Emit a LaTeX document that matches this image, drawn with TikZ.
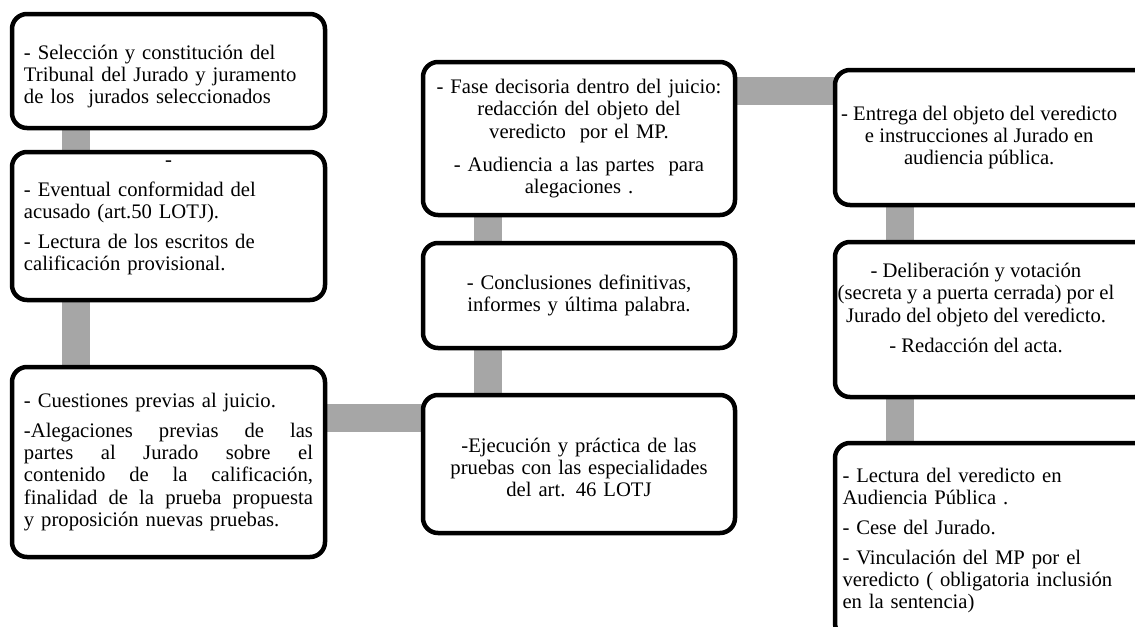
\documentclass[tikz,border=0pt]{standalone}
\usepackage{fontspec}
\setmainfont{Liberation Serif}
\usepackage{tikz}
\usetikzlibrary{
  backgrounds,
  positioning,
}
\definecolor{linkgray}{RGB}{166,166,166}
\tikzstyle{stage} = [
  rectangle,
  draw,
  fill=white,
  line width=2.7pt,
  rounded corners=9pt,
  inner sep=0pt,
  outer sep=0pt,
  font=\fontsize{12.4}{13.35}\selectfont,
]
\tikzstyle{stagetext} = [
  inner sep=0pt,
  align=center,
  font=\fontsize{12.4}{13.35}\selectfont,
]
\tikzstyle{link} = [
  line width=16.8pt,
  linkgray,
]

\begin{document}
\begin{tikzpicture}[node distance=0mm and 0mm]
      \useasboundingbox (0,0) rectangle (681pt,-375.6pt);
      \clip (0,0) rectangle (681pt,-375.6pt);

      % jurado
      \node[stage,minimum width=187.8pt,minimum height=68.4pt,text width=173.4pt,align=left] (jur1) at (101.1pt,-42.6pt) {\rule{0pt}{15pt}- Selección y constitución del\\Tribunal del Jurado y juramento\\de los~ jurados seleccionados};
      \node[stage,minimum width=187.8pt,minimum height=88.8pt,text width=173.4pt,align=left,below=14.4pt of jur1] (jur2) {\makebox[173.4pt]{-}\\[4.6pt]- Eventual conformidad del\\acusado (art.50 LOTJ).\\[4.6pt]- Lectura de los escritos de\\calificación provisional.\rule[-12.6pt]{0pt}{1pt}};
      \node[stage,minimum width=187.8pt,minimum height=114pt,text width=173.4pt,align=left,below=40.2pt of jur2] (jur3) {- Cuestiones previas al juicio.\\[4.6pt]-Alegaciones\hfill previas\hfill de\hfill las\\partes\hfill al\hfill Jurado\hfill sobre\hfill el\\contenido\hfill de\hfill la\hfill calificación,\\finalidad\hfill de\hfill la\hfill prueba\hfill propuesta\\y proposición nuevas pruebas.};

      % juicio
      \node[stage,minimum width=187.2pt,minimum height=82.8pt,text width=180pt,align=center] (jui1) at (347.4pt,-278.4pt) {\rule{0pt}{13pt}-Ejecución y práctica de las\\pruebas con las especialidades\\del art. 46 LOTJ};
      \node[stage,minimum width=187.2pt,minimum height=63pt,text width=180pt,align=center,above=28.2pt of jui1] (jui2) {- Conclusiones definitivas,\\informes y última palabra.};
      \node[stage,minimum width=187.2pt,minimum height=91.8pt,text width=180pt,align=center,above=16.8pt of jui2] (jui3) {- Fase decisoria dentro del juicio:\\redacción del objeto del\\veredicto~ por el MP.\\[6.5pt]- Audiencia a las partes~ para\\alegaciones .};

      % veredicto
      \node[stage,minimum width=189pt,minimum height=81pt] (ver1) at (595.5pt,-82.5pt) {};
      \node[stagetext] (ver1t) at ([xshift=-8pt]ver1.center) {- Entrega del objeto del veredicto\\e instrucciones al Jurado en\\audiencia pública.};
      \node[stage,minimum width=189pt,minimum height=93pt,below=22.2pt of ver1] (ver2) {};
      \node[stagetext] (ver2t) at ([xshift=-9.9pt,yshift=7pt]ver2.center) {- Deliberación y votación\\(secreta y a puerta cerrada) por el\\Jurado del objeto del veredicto.\\[4.6pt]- Redacción del acta.};
      \node[stage,minimum width=189pt,minimum height=117pt,text width=180pt,align=left,below=27.6pt of ver2] (ver3) {- Lectura del veredicto en\\Audiencia Pública .\\[4.6pt]- Cese del Jurado.\\[4.6pt]- Vinculación del MP por el\\veredicto ( obligatoria inclusión\\en la sentencia)};

      \begin{scope}[on background layer]
        \draw[link] ([xshift=38.4pt]jur1.south west) -- ([xshift=38.4pt]jur2.north west);
        \draw[link] ([xshift=38.4pt]jur2.south west) -- ([xshift=38.4pt]jur3.north west);
        \draw[link] ([yshift=-13.5pt]jui1.north west) -- ([yshift=-13.5pt]jui1.north west -| jur3.east);
        \draw[link] ([xshift=38.7pt]jui1.north west) -- ([xshift=38.7pt]jui2.south west);
        \draw[link] ([xshift=38.7pt]jui2.north west) -- ([xshift=38.7pt]jui3.south west);
        \draw[link] ([yshift=-17.1pt]jui3.north east) -- ([yshift=-17.1pt]jui3.north east -| ver1.west);
        \draw[link] ([xshift=39pt]ver1.south west) -- ([xshift=39pt]ver2.north west);
        \draw[link] ([xshift=39pt]ver2.south west) -- ([xshift=39pt]ver3.north west);
      \end{scope}

    \end{tikzpicture}
\end{document}
